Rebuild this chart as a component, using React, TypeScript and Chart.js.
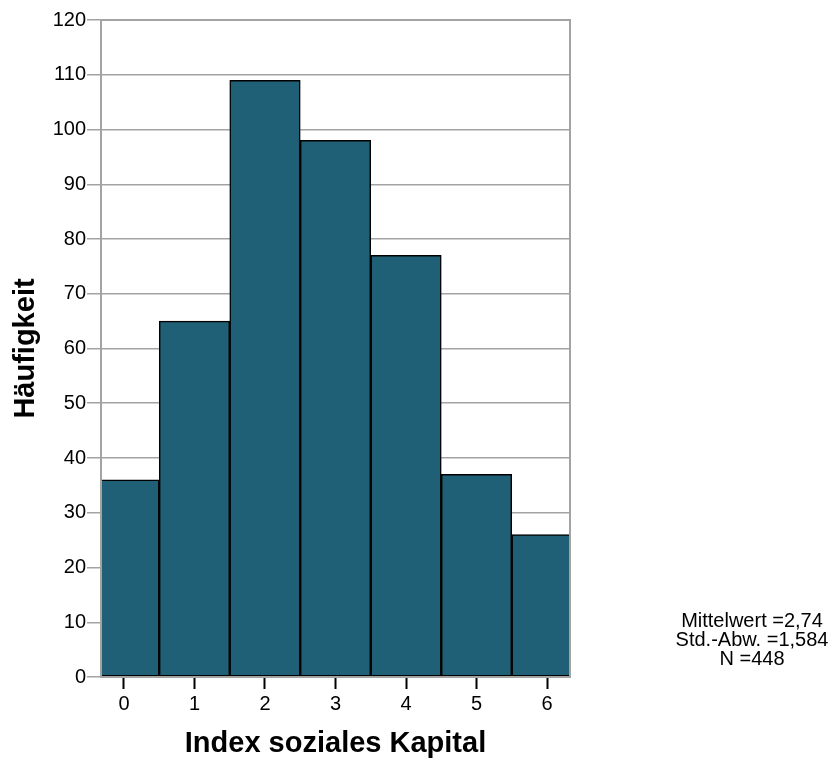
import React, { useEffect, useRef } from "react";
import { Chart, registerables } from "chart.js";

Chart.register(...registerables);

const categories = [0, 1, 2, 3, 4, 5, 6];
const frequencies = [36, 65, 109, 98, 77, 37, 26];
const yTicks = [0, 10, 20, 30, 40, 50, 60, 70, 80, 90, 100, 110, 120];
const statsLines = ["Mittelwert =2,74", "Std.-Abw. =1,584", "N =448"];
const xTitle = "Index soziales Kapital";
const yTitle = "Häufigkeit";

const FONT = "'Liberation Sans', Arial, Helvetica, sans-serif";
const BAR_COLOR = "#1f6076";
const GRID = "#a3a3a3";

export default function App() {
  const ref = useRef<HTMLCanvasElement | null>(null);

  useEffect(() => {
    if (!ref.current) return;

    const framePlugin = {
      id: "frame",
      afterDatasetsDraw(chart: any) {
        const { ctx, chartArea } = chart;
        ctx.save();
        ctx.strokeStyle = GRID;
        ctx.lineWidth = 2;
        ctx.strokeRect(
          chartArea.left,
          chartArea.top,
          chartArea.right - chartArea.left,
          chartArea.bottom - chartArea.top
        );
        ctx.restore();
      },
    };

    const statsPlugin = {
      id: "stats",
      afterDraw(chart: any) {
        const { ctx } = chart;
        ctx.save();
        ctx.fillStyle = "#000";
        ctx.font = `20px ${FONT}`;
        ctx.textAlign = "center";
        ctx.textBaseline = "middle";
        statsLines.forEach((line, i) => {
          ctx.fillText(line, 752, 621 + i * 19);
        });
        ctx.restore();
      },
    };

    const chart = new Chart(ref.current, {
      type: "bar",
      data: {
        datasets: [
          {
            data: categories.map((c, i) => ({ x: c, y: frequencies[i] })),
            backgroundColor: BAR_COLOR,
            borderColor: "#000",
            borderWidth: 1.5,
            borderSkipped: false,
            barPercentage: 1,
            categoryPercentage: 1,
          },
        ],
      },
      options: {
        responsive: false,
        animation: false,
        devicePixelRatio: 1,
        layout: { padding: { left: 0, right: 263, top: 20, bottom: 0 } },
        plugins: {
          legend: { display: false },
          tooltip: { enabled: false },
        },
        scales: {
          x: {
            type: "linear",
            offset: false,
            min: -0.326,
            max: 6.326,
            afterBuildTicks: (scale: any) => {
              scale.ticks = categories.map((v) => ({ value: v }));
            },
            afterFit: (scale: any) => {
              scale.height = 86;
            },
            grid: {
              offset: false,
              drawOnChartArea: false,
              drawTicks: true,
              tickLength: 12,
              tickColor: "#000",
              tickWidth: 2,
            },
            border: { display: true, color: GRID, width: 2 },
            ticks: {
              color: "#000",
              font: { family: FONT, size: 20 },
              padding: 3,
              maxRotation: 0,
              autoSkip: false,
            },
            title: {
              display: true,
              text: xTitle,
              color: "#000",
              font: { family: FONT, size: 29, weight: "bold" },
              padding: { top: 0, bottom: 2 },
            },
          },
          y: {
            type: "linear",
            min: 0,
            max: 120,
            afterBuildTicks: (scale: any) => {
              scale.ticks = yTicks.map((v) => ({ value: v }));
            },
            afterFit: (scale: any) => {
              scale.width = 101;
            },
            grid: {
              color: GRID,
              lineWidth: 1.5,
              drawTicks: true,
              tickLength: 14,
              tickColor: GRID,
              tickWidth: 1.5,
            },
            border: { display: true, color: GRID, width: 2 },
            ticks: {
              color: "#000",
              font: { family: FONT, size: 20 },
              padding: 1,
              autoSkip: false,
            },
            title: {
              display: true,
              text: yTitle,
              color: "#000",
              font: { family: FONT, size: 29, weight: "bold" },
              padding: { top: 9, bottom: 0 },
            },
          },
        },
      },
      plugins: [framePlugin, statsPlugin],
    } as any);

    return () => chart.destroy();
  }, []);

  return (
    <div style={{ position: "fixed", left: 0, top: 0, width: 833, height: 763, background: "#fff" }}>
      <canvas ref={ref} width={833} height={763} style={{ width: 833, height: 763, display: "block" }} />
    </div>
  );
}
